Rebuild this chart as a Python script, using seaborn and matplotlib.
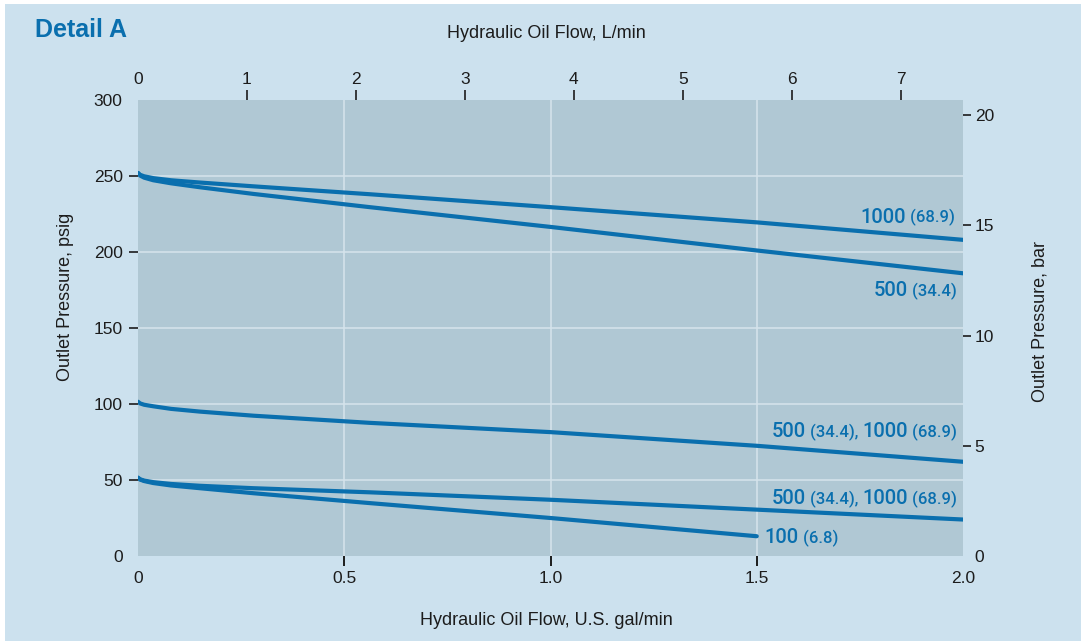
import pandas as pd
import seaborn as sns
import matplotlib.pyplot as plt
from matplotlib.patches import Rectangle

GPM_TO_LPM = 3.78541
PSI_PER_BAR = 14.5038

# flow in U.S. gal/min, outlet pressure in psig
flow = [0, 0.005, 0.015, 0.037, 0.08, 0.15, 0.28, 0.562, 1.0, 1.5, 2.0]
psig_1000_high = [252, 250.8, 249.8, 248.6, 247.2, 245.7, 243.2, 238, 229.5, 219.5, 208]
psig_500_high = [252, 250.3, 248.9, 247.2, 245.2, 242.6, 238.2, 229.5, 216.5, 201, 186]
psig_mid = [101.5, 100.4, 99.5, 98.5, 96.8, 95, 92.3, 87.6, 81.5, 72.5, 62]
psig_low = [51.5, 50.5, 49.6, 48.6, 47.4, 46.2, 44.6, 41.9, 37, 30.5, 24]

flow_100 = [0, 0.005, 0.015, 0.037, 0.08, 0.15, 0.28, 0.562, 1.0, 1.5]
psig_100 = [51.5, 50.3, 49.3, 48, 46.4, 44.6, 41.3, 34.8, 25, 13]

# curve labels: right edge x (gal/min), baseline y (psig), pieces (text, big)
labels = [
    (1.981, 219.3, [("1000", True), (" (68.9)", False)]),
    (1.985, 171.0, [("500", True), (" (34.4)", False)]),
    (1.985, 78.0, [("500", True), (" (34.4), ", False), ("1000", True), (" (68.9)", False)]),
    (1.985, 34.2, [("500", True), (" (34.4), ", False), ("1000", True), (" (68.9)", False)]),
    (1.697, 8.3, [("100", True), (" (6.8)", False)]),
]

rows = []
for name, xs, ys in [
    ("1000 high", flow, psig_1000_high),
    ("500 high", flow, psig_500_high),
    ("mid", flow, psig_mid),
    ("low", flow, psig_low),
    ("100", flow_100, psig_100),
]:
    for x, y in zip(xs, ys):
        rows.append({"curve": name, "gpm": x, "psig": y})
df = pd.DataFrame(rows)

BLUE = "#0a6fae"
BG = "#cce1ee"
PANEL = "#b0c8d4"
GRID = "#d6e4ec"
INK = "#1c1c1c"

sns.set_theme(style="ticks")
plt.rcParams["font.family"] = ["Liberation Sans", "DejaVu Sans"]

fig = plt.figure(figsize=(10.84, 6.41), dpi=100, facecolor="white")
fig.patches.append(Rectangle((5 / 1084, 0), 1076 / 1084, 637 / 641,
                             transform=fig.transFigure, facecolor=BG,
                             edgecolor="none", zorder=-10))
ax = fig.add_axes([138 / 1084, 1 - 556 / 641, 825 / 1084, 456 / 641])
ax.set_facecolor(PANEL)

sns.lineplot(data=df, x="gpm", y="psig", units="curve", estimator=None,
             sort=False, color=BLUE, lw=3.0, ax=ax, zorder=3,
             solid_capstyle="round")

ax.set_xlim(0, 2.0)
ax.set_ylim(0, 300)
for s in ax.spines.values():
    s.set_visible(False)

# top axis in L/min
top = ax.twiny()
top.set_xlim(0, 2.0 * GPM_TO_LPM)
top.set_xticks(range(8))
top.tick_params(axis="x", top=True, labeltop=True, bottom=False,
                labelbottom=False, length=7, width=1.2, pad=2,
                labelsize=12.5, colors=INK, direction="out")
for s in top.spines.values():
    s.set_visible(False)

# right axis in bar
right = ax.twinx()
right.set_ylim(0, 300 / PSI_PER_BAR)
right.set_yticks([0, 5, 10, 15, 20])
right.tick_params(axis="y", right=True, labelright=True, left=False,
                  labelleft=False, length=6, width=1.2, pad=2.4,
                  labelsize=12.5, colors=INK, direction="out")
for s in right.spines.values():
    s.set_visible(False)

ax.set_xticks([0, 0.5, 1.0, 1.5, 2.0])
ax.set_xticklabels(["0", "0.5", "1.0", "1.5", "2.0"])
ax.set_yticks([0, 50, 100, 150, 200, 250, 300])
ax.grid(True, color=GRID, lw=1.1)
ax.tick_params(axis="x", bottom=True, top=False, length=7, width=1.2, pad=4,
               labelsize=12.5, colors=INK, direction="out")
ax.tick_params(axis="y", left=True, right=False, length=6.5, width=1.2,
               pad=4.5, labelsize=12.5, colors=INK, direction="out")

# strip just below the panel: its upward top ticks form the bottom tick marks
strip = fig.add_axes([138 / 1084, 1 - 576 / 641, 825 / 1084, 10 / 641])
strip.set_xlim(0, 2.0)
strip.set_xticks([0.5, 1.0, 1.5])
strip.set_yticks([])
strip.tick_params(axis="x", top=True, bottom=False, labeltop=False,
                  labelbottom=False, direction="out", length=7, width=1.2,
                  color=INK)
strip.patch.set_visible(False)
for s in strip.spines.values():
    s.set_visible(False)

ax.set_xlabel("Hydraulic Oil Flow, U.S. gal/min", fontsize=13, color=INK)
ax.xaxis.set_label_coords(0.4945, -0.123)
ax.set_ylabel("Outlet Pressure, psig", fontsize=13, color=INK)
ax.yaxis.set_label_coords(-0.078, 0.568)

fig.text(546 / 1084, 1 - 33 / 641, "Hydraulic Oil Flow, L/min", fontsize=13,
         color=INK, ha="center", va="center")
fig.text(1040 / 1084, 1 - 321 / 641, "Outlet Pressure, bar", fontsize=13,
         color=INK, ha="center", va="center", rotation=90)
fig.text(35 / 1084, 1 - 37 / 641, "Detail A", fontsize=18, fontweight="bold",
         color=BLUE, va="baseline")

for x_right, y0, pieces in labels:
    nxt = None
    for text, big in reversed(pieces):
        kw = dict(color=BLUE, fontsize=14.5 if big else 12,
                  family=["Roboto", "Liberation Sans"], fontweight="medium",
                  va="baseline", ha="right", zorder=4)
        if nxt is None:
            nxt = ax.text(x_right, y0, text, **kw)
        else:
            nxt = ax.annotate(text, xy=(0, y0), xycoords=(nxt, "data"), **kw)

# draw once so tick positions are known, then drop marks on the panel edges
fig.canvas.draw()


def hide_edges(axis, edges, line, grid=True):
    for tick in axis.get_major_ticks():
        on_edge = any(abs(tick.get_loc() - e) < 1e-9 for e in edges)
        getattr(tick, line).set_visible(not on_edge)
        if grid:
            tick.gridline.set_visible(not on_edge)


hide_edges(ax.xaxis, (0, 2.0), "tick1line")
hide_edges(ax.yaxis, (0, 300), "tick1line")
hide_edges(top.xaxis, (0,), "tick2line", grid=False)
hide_edges(right.yaxis, (0,), "tick2line", grid=False)

fig.savefig("out.png", dpi=100, facecolor="white")
